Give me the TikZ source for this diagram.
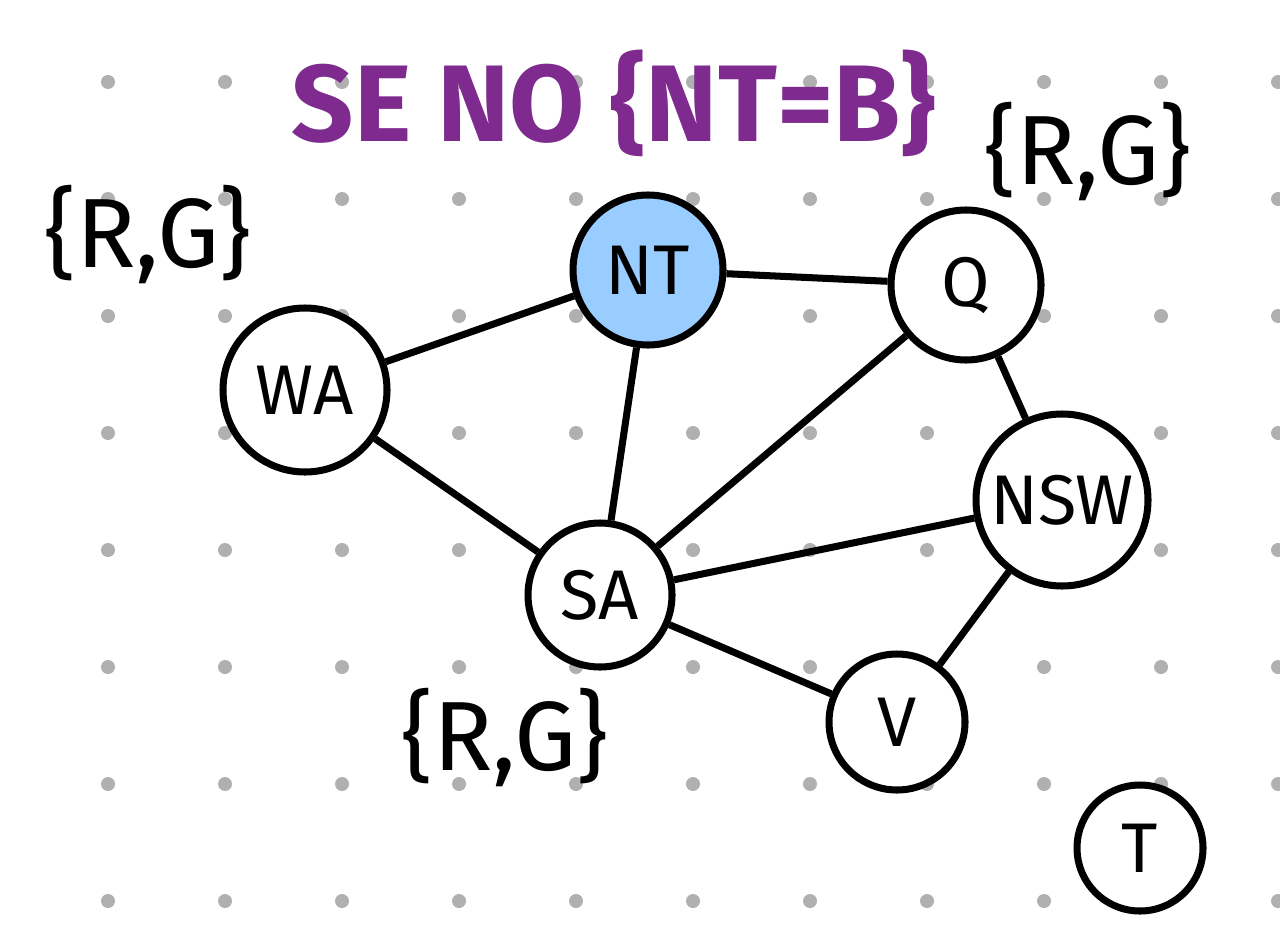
\documentclass[tikz,border=0pt]{standalone}
\usepackage{fontspec}
\setsansfont{Fira Sans}
\usepackage{tikz}
\usetikzlibrary{positioning}
\definecolor{ntblue}{HTML}{99CCFF}
\definecolor{notepurple}{HTML}{7E2A8E}
\definecolor{griddot}{HTML}{B0B0B0}
\tikzstyle{vertex}=[circle,draw=black,line width=4pt,fill=white,inner sep=0pt,font=\sffamily\fontsize{40}{44}\selectfont]
\tikzstyle{domlabel}=[font=\sffamily\fontsize{56}{60}\selectfont]

\begin{document}
\begin{tikzpicture}[x=0.02cm,y=-0.02cm]
      \useasboundingbox (0,0) rectangle (1280,936);
      \fill[white] (0,0) rectangle (1280,936);
      \foreach \i in {0,...,10}
        \foreach \j in {0,...,7}
          \fill[griddot] (108+117*\i, 82+117*\j) circle (7);
      \node[vertex,minimum size=164*0.02cm] at (305, 390) (wa) {WA};
      \node[vertex,fill=ntblue,minimum size=150*0.02cm] at (648, 270) (nt) {NT};
      \node[vertex,minimum size=150*0.02cm] at (966, 285) (q) {Q};
      \node[vertex,minimum size=172*0.02cm] at (1062, 500) (nsw) {NSW};
      \node[vertex,minimum size=144*0.02cm] at (600, 595) (sa) {SA};
      \node[vertex,minimum size=136*0.02cm] at (897, 722) (v) {V};
      \node[vertex,minimum size=126*0.02cm] at (1140, 848) (t) {T};
      \node[domlabel] at (148, 235) (wadom) {\{R,G\}};
      \node[domlabel] at (1088, 152) (qdom) {\{R,G\}};
      \node[domlabel] at (505, 738) (sadom) {\{R,G\}};
      \node[domlabel,text=notepurple,font=\sffamily\bfseries\fontsize{62}{66}\selectfont] at (614, 103) (note) {SE NO \{NT=B\}};
      \draw[line width=4pt] (wa) edge (nt);
      \draw[line width=4pt] (wa) edge (sa);
      \draw[line width=4pt] (nt) edge (q);
      \draw[line width=4pt] (nt) edge (sa);
      \draw[line width=4pt] (q) edge (sa);
      \draw[line width=4pt] (q) edge (nsw);
      \draw[line width=4pt] (sa) edge (nsw);
      \draw[line width=4pt] (sa) edge (v);
      \draw[line width=4pt] (v) edge (nsw);
\end{tikzpicture}
\end{document}
